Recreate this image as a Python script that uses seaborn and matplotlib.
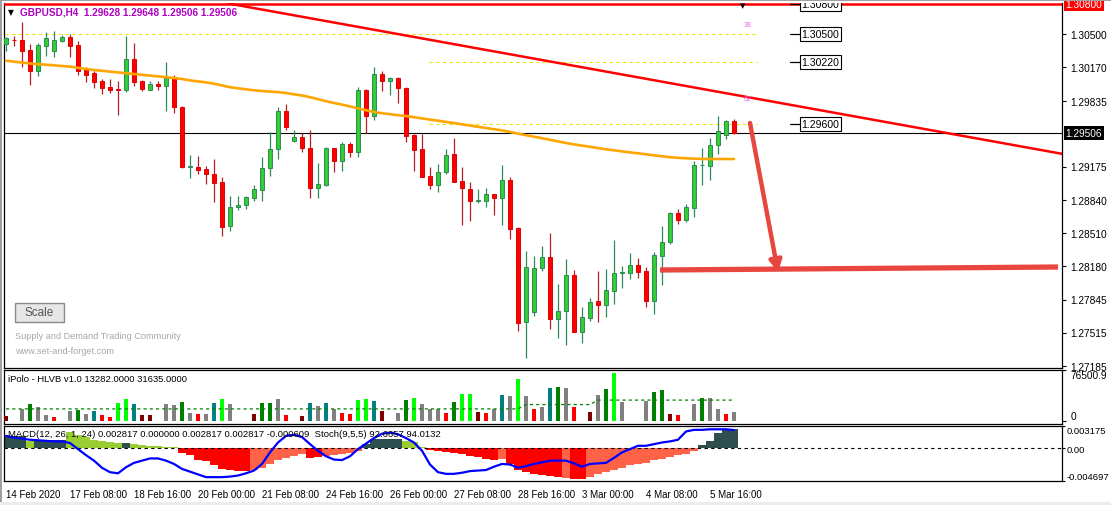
import numpy as np
import matplotlib
matplotlib.use("Agg")
import matplotlib.pyplot as plt
import matplotlib.transforms as mtransforms
from matplotlib.patches import Rectangle
import seaborn as sns

# ---------------- data ----------------
open_ = [
    1.30400, 1.30443, 1.30440, 1.30340, 1.30133, 1.30383, 1.30327, 1.30433, 1.30467, 1.30390,
    1.30150, 1.30110, 1.30030, 1.29970, 1.29950, 1.29943, 1.30250, 1.30030, 1.29943, 1.30000,
    1.29983, 1.30067, 1.29767, 1.29170, 1.29170, 1.29150, 1.29100, 1.29017, 1.28583, 1.28767,
    1.28790, 1.28860, 1.28943, 1.29157, 1.29350, 1.29727, 1.29433, 1.29467, 1.29357, 1.28957,
    1.28990, 1.29357, 1.29233, 1.29400, 1.29317, 1.29940, 1.29683, 1.30100, 1.30033, 1.30060,
    1.29960, 1.29490, 1.29350, 1.29077, 1.28990, 1.29117, 1.29300, 1.29027, 1.28950, 1.28830,
    1.28833, 1.28900, 1.28860, 1.29040, 1.28560, 1.27617, 1.27723, 1.28157, 1.28267, 1.27650,
    1.27733, 1.28090, 1.27523, 1.27663, 1.27830, 1.27793, 1.27933, 1.28107, 1.28107, 1.28190,
    1.28127, 1.27833, 1.28283, 1.28417, 1.28707, 1.28643, 1.28763, 1.29187, 1.29183, 1.29390,
    1.29490, 1.29628]
high = [
    1.30470, 1.30477, 1.30617, 1.30400, 1.30407, 1.30517, 1.30527, 1.30490, 1.30500, 1.30427,
    1.30167, 1.30133, 1.30050, 1.30050, 1.30030, 1.30483, 1.30410, 1.30040, 1.30033, 1.30033,
    1.30223, 1.30090, 1.29780, 1.29290, 1.29283, 1.29183, 1.29250, 1.29067, 1.28883, 1.28880,
    1.28885, 1.28990, 1.29267, 1.29517, 1.29767, 1.29800, 1.29540, 1.29507, 1.29540, 1.29210,
    1.29367, 1.29357, 1.29423, 1.29423, 1.29967, 1.29950, 1.30167, 1.30133, 1.30067, 1.30073,
    1.29967, 1.29500, 1.29500, 1.29167, 1.29200, 1.29350, 1.29460, 1.29173, 1.29023, 1.28950,
    1.28957, 1.28900, 1.29190, 1.29067, 1.28567, 1.28333, 1.28283, 1.28383, 1.28510, 1.28000,
    1.28250, 1.28140, 1.27773, 1.27860, 1.28130, 1.28150, 1.28440, 1.28183, 1.28310, 1.28260,
    1.28167, 1.28317, 1.28583, 1.28717, 1.28750, 1.28800, 1.29233, 1.29360, 1.29457, 1.29683,
    1.29640, 1.29648]
low = [
    1.30333, 1.30383, 1.30173, 1.29993, 1.30083, 1.30283, 1.30267, 1.30417, 1.30273, 1.30090,
    1.30017, 1.29960, 1.29900, 1.29910, 1.29693, 1.29923, 1.29983, 1.29933, 1.29943, 1.29943,
    1.29733, 1.29710, 1.29160, 1.29060, 1.29100, 1.29000, 1.28823, 1.28483, 1.28533, 1.28745,
    1.28755, 1.28835, 1.28833, 1.29077, 1.29250, 1.29543, 1.29417, 1.29323, 1.28860, 1.28857,
    1.28985, 1.29123, 1.29133, 1.29267, 1.29273, 1.29510, 1.29643, 1.29933, 1.29890, 1.29807,
    1.29417, 1.29133, 1.29067, 1.28950, 1.28923, 1.29100, 1.29020, 1.28590, 1.28633, 1.28807,
    1.28773, 1.28690, 1.28590, 1.28450, 1.27533, 1.27260, 1.27683, 1.28133, 1.27550, 1.27460,
    1.27390, 1.27520, 1.27410, 1.27633, 1.27623, 1.27673, 1.27800, 1.27960, 1.28050, 1.28060,
    1.27773, 1.27700, 1.27990, 1.28405, 1.28600, 1.28623, 1.28667, 1.28990, 1.29040, 1.29300,
    1.29450, 1.29500]
close = [
    1.30460, 1.30437, 1.30333, 1.30133, 1.30390, 1.30460, 1.30440, 1.30467, 1.30383, 1.30133,
    1.30093, 1.30023, 1.29960, 1.29940, 1.29943, 1.30250, 1.30023, 1.29950, 1.29997, 1.29983,
    1.30057, 1.29767, 1.29167, 1.29177, 1.29143, 1.29100, 1.29010, 1.28573, 1.28767, 1.28793,
    1.28867, 1.28950, 1.29157, 1.29350, 1.29727, 1.29567, 1.29467, 1.29357, 1.28957, 1.29000,
    1.29357, 1.29233, 1.29400, 1.29317, 1.29940, 1.29683, 1.30100, 1.30033, 1.30060, 1.29957,
    1.29483, 1.29343, 1.29073, 1.28993, 1.29117, 1.29290, 1.29023, 1.28957, 1.28833, 1.28840,
    1.28900, 1.28860, 1.29040, 1.28550, 1.27610, 1.28167, 1.28157, 1.28267, 1.27650, 1.27733,
    1.28090, 1.27523, 1.27667, 1.27817, 1.27793, 1.27937, 1.28107, 1.28117, 1.28190, 1.28123,
    1.27833, 1.28290, 1.28417, 1.28710, 1.28643, 1.28767, 1.29190, 1.29193, 1.29390, 1.29527,
    1.29627, 1.29506]
moving_avg = [
    1.30233, 1.30223, 1.30215, 1.30205, 1.30198, 1.30193, 1.30187, 1.30180, 1.30174, 1.30162,
    1.30150, 1.30140, 1.30132, 1.30124, 1.30116, 1.30108, 1.30100, 1.30092, 1.30084, 1.30076,
    1.30068, 1.30060, 1.30050, 1.30036, 1.30026, 1.30016, 1.30003, 1.29986, 1.29968, 1.29957,
    1.29947, 1.29937, 1.29930, 1.29924, 1.29919, 1.29910, 1.29897, 1.29885, 1.29868, 1.29848,
    1.29828, 1.29810, 1.29794, 1.29776, 1.29757, 1.29738, 1.29720, 1.29708, 1.29698, 1.29688,
    1.29680, 1.29668, 1.29656, 1.29644, 1.29633, 1.29621, 1.29609, 1.29597, 1.29585, 1.29572,
    1.29560, 1.29548, 1.29536, 1.29520, 1.29504, 1.29488, 1.29473, 1.29458, 1.29442, 1.29426,
    1.29410, 1.29396, 1.29384, 1.29372, 1.29360, 1.29347, 1.29337, 1.29326, 1.29316, 1.29307,
    1.29297, 1.29287, 1.29277, 1.29268, 1.29262, 1.29257, 1.29254, 1.29251, 1.29250, 1.29250,
    1.29250, 1.29250]

volume = [
    8500, 0, 19000, 26500, 21000, 10000, 7000, 0, 15000, 17500,
    11500, 15000, 10000, 7000, 27500, 33000, 26500, 9000, 10000, 0,
    26500, 24500, 29500, 12500, 11500, 11500, 28000, 34000, 26500, 0,
    0, 11500, 28000, 28000, 34000, 10000, 0, 8500, 28000, 23000,
    28000, 18500, 12500, 11500, 31500, 33000, 31000, 15000, 0, 12500,
    32500, 35500, 26500, 18500, 18500, 12500, 29500, 41000, 41000, 14000,
    12500, 19000, 38500, 37000, 62500, 37000, 19000, 22000, 50000, 51500,
    49000, 22000, 0, 14500, 38500, 47500, 71500, 28500, 0, 0,
    30000, 43000, 46500, 11500, 10000, 0, 26500, 35500, 35500, 18000,
    11500, 13282]
volume_kind = ("M-GgGGR-Gg" "GTRRLLTMM-" "GGgGRGTLG-" "-MggGR-MTG" "TGRRLLTM-G"
               "gLGGGRgLLM" "RGTGLGRGTg" "GR-MGgLG--" "GggMR-GgGG" "RG")
volume_avg = [
    18500, 18500, 18500, 18500, 18500, 18500, 18500, 18500, 18500, 18500,
    18500, 18500, 18500, 18500, 18500, 18500, 18500, 18500, 18500, 18500,
    18500, 18500, 18500, 18500, 18500, 18500, 18500, 18500, 18500, 18500,
    18500, 18500, 18500, 18500, 18500, 18500, 18500, 18500, 18500, 18500,
    18500, 18500, 18500, 18500, 18500, 18500, 18500, 18500, 18500, 18500,
    18500, 18500, 18500, 18500, 18500, 18500, 18500, 18500, 18500, 18500,
    18500, 18500, 18500, 18500, 18500, 25000, 25000, 25000, 25000, 25000,
    25000, 25000, 25000, 25000, 31635, 31635, 31635, 31635, 31635, 31635,
    31635, 31635, 31635, 31635, 31635, 31635, 31635, 31635, 31635, 31635,
    31635, 31635]

macd_hist = [
    0.00179, 0.00179, 0.00179, 0.00108, 0.00118, 0.00118, 0.00118, 0.00118, 0.00226, 0.00193,
    0.00156, 0.00118, 0.00099, 0.00085, 0.00071, 0.00075, 0.00061, 0.00047, 0.00038, 0.00028,
    0.00024, 0.00014, -0.00071, -0.00104, -0.00174, -0.00189, -0.00245, -0.00292, -0.00316, -0.00325,
    -0.00330, -0.00306, -0.00278, -0.00222, -0.00174, -0.00141, -0.00118, -0.00080, -0.00141, -0.00127,
    -0.00108, -0.00099, -0.00090, -0.00071, -0.00042, 0.00061, 0.00132, 0.00132, 0.00132, 0.00132,
    0.00099, 0.00085, 0.00024, -0.00024, -0.00042, -0.00057, -0.00071, -0.00090, -0.00108, -0.00127,
    -0.00151, -0.00165, -0.00151, -0.00222, -0.00306, -0.00339, -0.00363, -0.00387, -0.00401, -0.00410,
    -0.00420, -0.00434, -0.00443, -0.00410, -0.00363, -0.00339, -0.00306, -0.00278, -0.00245, -0.00222,
    -0.00207, -0.00174, -0.00151, -0.00127, -0.00104, -0.00080, -0.00042, 0.00047, 0.00108, 0.00212,
    0.00273, 0.002817]
macd_kind = ("DDDYDDDDYY" "YYYYYDYYYY" "YYRRRRRRRR" "RSSSSSSSRR" "SSSSSDDDDD"
             "YYYRRRRRRR" "RRSRRRRRRR" "SRRSSSSSSS" "SSSSSSSDDD" "DD")
stoch_main = [
    82, 79, 77, 75, 74, 73, 72, 72, 69, 58,
    47, 37, 24, 16, 14, 25, 33, 37, 41, 41,
    37, 31, 22, 17, 12, 7, 7, 7, 8, 10,
    14, 19, 31, 52, 70, 82, 84, 80, 67, 55,
    45, 39, 38, 45, 58, 68, 78, 86, 88, 85,
    78, 70, 55, 30, 16, 13, 13, 15, 18, 19,
    20, 26, 31, 30, 24, 27, 31, 34, 37, 37,
    37, 32, 26, 31, 32, 33, 42, 52, 58, 64,
    64, 67, 70, 72, 75, 90, 93, 93, 94, 94,
    94, 92.67]

time_tick_bars = [0, 8, 16, 24, 32, 40, 48, 56, 64, 72, 80, 88]
time_tick_labels = ["14 Feb 2020", "17 Feb 08:00", "18 Feb 16:00", "20 Feb 00:00",
                    "21 Feb 08:00", "24 Feb 16:00", "26 Feb 00:00", "27 Feb 08:00",
                    "28 Feb 16:00", "3 Mar 00:00", "4 Mar 08:00", "5 Mar 16:00"]
price_ticks = [1.30500, 1.30170, 1.29835, 1.29175, 1.28840, 1.28510, 1.28180, 1.27845, 1.27515, 1.27185]
top_level = 1.30800
bid_price = 1.29506
level_labels = [1.30800, 1.30500, 1.30220, 1.29600]
yellow_levels = [1.30500, 1.30220, 1.29600]

# ---------------- style ----------------
sns.set_theme(style="white")
plt.rcParams["font.family"] = ["Liberation Sans", "DejaVu Sans"]
plt.rcParams["axes.linewidth"] = 0.8

W, H = 1111, 506
XMIN, XMAX = -0.25, 132.0
PMIN, PMAX = 1.27160, 1.30810

fig = plt.figure(figsize=(W / 100, H / 100), dpi=100, facecolor="white")


def rect(x0, y0, x1, y1):
    return [x0 / W, 1 - y1 / H, (x1 - x0) / W, (y1 - y0) / H]


def px2bar(px):
    return XMIN + (px - 4) / 1058 * (XMAX - XMIN)


def y2p(y):
    return PMAX - (y - 4) / 365 * (PMAX - PMIN)


ax = fig.add_axes(rect(4, 4, 1062, 369))
axv = fig.add_axes(rect(4, 371, 1062, 425))
axm = fig.add_axes(rect(4, 427, 1062, 482))
axs = axm.twinx()   # stochastic scale (0-100) sharing the MACD window

for a in (ax, axv, axm):
    a.set_facecolor("white")
    a.set_xlim(XMIN, XMAX)
    for s in a.spines.values():
        s.set_color("black")
        s.set_linewidth(0.9)
    a.set_xticks([])
    a.yaxis.tick_right()
    a.tick_params(axis="y", direction="out", length=3, width=0.8, pad=3,
                  labelsize=7.3, colors="black")
ax.spines["top"].set_visible(False)

# ---------------- main candles ----------------
o = np.array(open_); h = np.array(high); l = np.array(low); c = np.array(close)
idx = np.arange(len(o))
up = c >= o
wick_col = np.where(up, "#2E8B57", "#B22222")
fill_col = np.where(up, "#32CD32", "#FF0000")
edge_col = np.where(up, "#2E8B57", "#E00000")
ax.vlines(idx, l, h, colors=wick_col, linewidth=0.9, zorder=3)
body_lo = np.minimum(o, c)
body_h = np.maximum(np.abs(c - o), 0.000025)
ax.bar(idx, body_h, bottom=body_lo, width=0.62, color=fill_col, edgecolor=edge_col,
       linewidth=0.7, zorder=4)

sns.lineplot(x=idx, y=moving_avg, ax=ax, color="#FFA500", linewidth=1.9, zorder=5)

# levels
ax.axhline(top_level, color="#FF0000", linewidth=1.8, zorder=6)
ax.axhline(bid_price, color="black", linewidth=0.8, zorder=2)
ax.plot([px2bar(5), px2bar(757)], [yellow_levels[0]] * 2, color="#EDE300",
        linewidth=0.8, dashes=(3, 3), zorder=1)
for lv in yellow_levels[1:]:
    ax.plot([px2bar(429), px2bar(757)], [lv, lv], color="#EDE300",
            linewidth=0.8, dashes=(3, 3), zorder=1)

# trend line
trend_x = [px2bar(228.5), XMAX]
trend_y = [1.30805, 1.29302]
ax.plot(trend_x, trend_y, color="#FF0000", linewidth=1.8, zorder=6, clip_on=True)

# price label boxes
for lv in level_labels:
    ax.plot([px2bar(790), px2bar(800)], [lv, lv], color="black", linewidth=0.9, zorder=7)
    ax.text(px2bar(801.5), lv, f"{lv:.5f}", fontsize=7.6, ha="left", va="center",
            color="black", zorder=8, clip_on=True,
            bbox=dict(boxstyle="square,pad=0.18", fc="white", ec="black", lw=0.8))

# red arrow + target line
ax.annotate("", xy=(px2bar(778), y2p(273)), xytext=(px2bar(750), y2p(124)),
            arrowprops=dict(arrowstyle="-|>,head_length=0.55,head_width=0.3",
                            color="#E8473F", lw=3.2, shrinkA=0, shrinkB=0),
            zorder=9, annotation_clip=False)
ax.plot([px2bar(660), px2bar(1058)], [y2p(271), y2p(268)], color="#E8473F",
        linewidth=3.8, solid_capstyle="butt", zorder=9)

ax.set_ylim(PMIN, PMAX)
ax.set_yticks(price_ticks)
ax.set_yticklabels([f"{p:.5f}" for p in price_ticks])
ax.set_xlabel(""); ax.set_ylabel("")

bt = mtransforms.blended_transform_factory(ax.transAxes, ax.transData)
ax.text(1.0035, top_level, f"{top_level:.5f}", transform=bt, fontsize=7.3, color="white",
        ha="left", va="center", clip_on=False, zorder=10,
        bbox=dict(boxstyle="square,pad=0.2", fc="#FF0000", ec="#FF0000", lw=0))
ax.text(1.0035, bid_price, f"{bid_price:.5f}", transform=bt, fontsize=7.3, color="white",
        ha="left", va="center", clip_on=False, zorder=10,
        bbox=dict(boxstyle="square,pad=0.2", fc="black", ec="black", lw=0))

# ---------------- volume panel ----------------
vol_colors = {"M": "#800000", "G": "#808080", "g": "#008000", "T": "#008080",
              "R": "#FF0000", "L": "#00FF00", "-": "white"}
axv.bar(idx, volume, width=0.62, color=[vol_colors[k] for k in volume_kind],
        linewidth=0, zorder=3)
sns.lineplot(x=idx, y=volume_avg, ax=axv, color="#008000", linewidth=0.9, zorder=4)
axv.lines[-1].set_dashes((2.5, 2.5))
axv.set_ylim(-4000, 76500.9)
axv.set_yticks([0, 76500.9])
axv.set_yticklabels(["0", "76500.9"])
vl = axv.get_yticklabels()
vl[0].set_va("bottom"); vl[1].set_va("top")
axv.set_xlabel(""); axv.set_ylabel("")

# ---------------- MACD / Stoch panel ----------------
macd_colors = {"D": "#2F4F4F", "Y": "#9ACD32", "R": "#FF0000", "S": "#FF6347"}
axm.bar(idx, macd_hist, width=1.0, color=[macd_colors[k] for k in macd_kind],
        linewidth=0, zorder=2)
axm.axhline(0, color="black", linewidth=0.8, dashes=(3, 3), zorder=3)
axm.set_ylim(-0.004697, 0.003175)
axm.yaxis.tick_right()
axm.set_yticks([-0.004697, 0.0, 0.003175])
axm.set_yticklabels(["-0.004697", "0.00", "0.003175"])
ml = axm.get_yticklabels()
ml[0].set_va("bottom"); ml[2].set_va("top")
axm.set_xticks(time_tick_bars)
axm.set_xticklabels(time_tick_labels, ha="left")
axm.tick_params(axis="x", direction="out", length=4, width=0.8, pad=2,
                labelsize=7.0, colors="black")
axm.tick_params(axis="y", direction="out", length=2, width=0.8, pad=1.5,
                labelsize=6.8, colors="black", left=False, labelleft=False,
                right=True, labelright=True)
axm.set_xlabel(""); axm.set_ylabel("")

axs.set_xlim(XMIN, XMAX)
axs.set_ylim(0, 100)
sns.lineplot(x=idx, y=stoch_main, ax=axs, color="#0000FF", linewidth=1.6, zorder=5)
axs.axis("off")

# ---------------- overlay texts / decorations ----------------
ov = fig.add_axes([0, 0, 1, 1], facecolor="none")
ov.set_xlim(0, W); ov.set_ylim(H, 0); ov.axis("off")
ov.add_patch(Rectangle((0, 0), W, 1.5, color="#A0A0A0", lw=0))
ov.add_patch(Rectangle((0, 0), 2, H, color="#A0A0A0", lw=0))
ov.add_patch(Rectangle((0, 503), W, 3, color="#ECECEC", lw=0))

ov.text(8, 12.5, "\u25BC", fontsize=5.5, color="black", ha="left", va="center",
        family=["DejaVu Sans"])
ov.text(20, 12.5, "GBPUSD,H4  1.29628 1.29648 1.29506 1.29506", fontsize=7.2,
        color="#B000C0", fontweight="bold", ha="left", va="center")
ov.text(740, 6.5, "\u25BC", fontsize=5, color="black", ha="left", va="center",
        family=["DejaVu Sans"])
ov.text(744, 25.5, "38", fontsize=5, color="#EE66EE", ha="left", va="center")
ov.text(744, 99.5, "62", fontsize=5, color="#EE66EE", ha="left", va="center")

# Scale button
ov.add_patch(Rectangle((15, 304), 49, 19, facecolor="#E6E6E6", edgecolor="#8A8A8A", lw=1.0))
ov.text(39.5, 313.5, "Scale", fontsize=8.5, color="#555555", ha="center", va="center")
ov.text(15, 336.5, "Supply and Demand Trading Community", fontsize=6.6,
        color="#A8A8A8", ha="left", va="center")
ov.text(15, 352, "www.set-and-forget.com", fontsize=6.6, color="#A8A8A8",
        ha="left", va="center")

ov.text(8, 379, "iPolo - HLVB v1.0 13282.0000 31635.0000", fontsize=6.8,
        color="black", ha="left", va="center")
ov.text(8, 434.5, "MACD(12, 26, 1, 24) 0.002817 0.000000 0.002817 0.002817 -0.000609  "
        "Stoch(9,5,5) 92.6657 94.0132", fontsize=6.8, color="black", ha="left", va="center")

fig.savefig("out.png", dpi=100, facecolor="white")
